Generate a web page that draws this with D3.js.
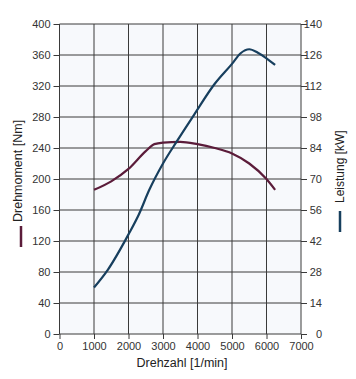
<!DOCTYPE html>
<html><head><meta charset="utf-8">
<script src="https://cdn.jsdelivr.net/npm/d3@7"></script>
<style>
html,body{margin:0;padding:0;background:#fff;}
svg{display:block;font-family:"Liberation Sans",Arial,sans-serif;}
</style></head>
<body><svg id="c" width="356" height="379"></svg>
<script>
const rpmTicks = [0,1000,2000,3000,4000,5000,6000,7000];
const torqueTicks = [0,40,80,120,160,200,240,280,320,360,400];
const powerTicks = [0,14,28,42,56,70,84,98,112,126,140];

const torqueRpm = [1000,1500,2000,2500,2750,3000,3500,4000,4500,5000,5500,6000,6250];
const torqueNm  = [186,197,213,236,245,247,248,245,240,233,220,200,186];

const powerRpm = [1000,1400,2000,2300,2600,3000,3400,3900,4500,5000,5250,5500,5750,6000,6250];
const powerKw  = [21,29,45,54,65,77,87,99,113,122,126.8,128.6,127,124.5,121.5];

const svg = d3.select("#c");
const L = 59.5, R = 301, T = 24, B = 334;

svg.append("rect").attr("x",L).attr("y",T).attr("width",R-L).attr("height",B-T).attr("fill","#f7f9fc");

const x = d3.scaleLinear().domain([0,7000]).range([L,R]);
const yT = d3.scaleLinear().domain([0,400]).range([B,T]);
const yP = d3.scaleLinear().domain([0,140]).range([B,T]);

const gridColor = "#3a3a3a";
svg.append("g").selectAll("line").data(rpmTicks).join("line")
  .attr("x1",d=>x(d)).attr("x2",d=>x(d)).attr("y1",T).attr("y2",B)
  .attr("stroke",gridColor).attr("stroke-width",1);
svg.append("g").selectAll("line").data(torqueTicks).join("line")
  .attr("x1",L).attr("x2",R).attr("y1",d=>yT(d)).attr("y2",d=>yT(d))
  .attr("stroke",gridColor).attr("stroke-width",1);

const xAxis = d3.axisBottom(x).tickValues(rpmTicks).tickSize(5).tickPadding(3).tickFormat(d3.format("d"));
const gx = svg.append("g").attr("transform",`translate(0,${B})`).call(xAxis);
const yAxisL = d3.axisLeft(yT).tickValues(torqueTicks).tickSize(6).tickPadding(3);
const gl = svg.append("g").attr("transform",`translate(${L},0)`).call(yAxisL);
const yAxisR = d3.axisRight(yP).tickValues(powerTicks).tickSize(6).tickPadding(1);
const gr = svg.append("g").attr("transform",`translate(${R},0)`).call(yAxisR);
[gx,gl,gr].forEach(g=>{
  g.select(".domain").remove();
  g.selectAll("line").attr("stroke",gridColor);
  g.selectAll("text").attr("fill","#333").style("font-size","11px").style("font-family","Liberation Sans, Arial, sans-serif");
});
gr.selectAll("text").attr("text-anchor","end").attr("x",21);

const lineT = d3.line().x((d,i)=>x(torqueRpm[i])).y(d=>yT(d)).curve(d3.curveMonotoneX);
const lineP = d3.line().x((d,i)=>x(powerRpm[i])).y(d=>yP(d)).curve(d3.curveMonotoneX);
const torqueColor = "#5b1c3a", powerColor = "#173f5e";
svg.append("path").attr("d",lineT(torqueNm)).attr("fill","none").attr("stroke",torqueColor).attr("stroke-width",2.2);
svg.append("path").attr("d",lineP(powerKw)).attr("fill","none").attr("stroke",powerColor).attr("stroke-width",2.2);

svg.append("text").attr("x",182).attr("y",367).attr("text-anchor","middle")
  .style("font-size","12.5px").attr("fill","#222").text("Drehzahl [1/min]");

svg.append("text").attr("transform","translate(22,222) rotate(-90)").attr("text-anchor","start")
  .style("font-size","12.5px").attr("fill","#222").text("Drehmoment [Nm]");
svg.append("line").attr("x1",21).attr("x2",21).attr("y1",226).attr("y2",247).attr("stroke",torqueColor).attr("stroke-width",2.5);

svg.append("text").attr("transform","translate(344,203) rotate(-90)").attr("text-anchor","start")
  .style("font-size","12px").attr("fill","#222").text("Leistung [kW]");
svg.append("line").attr("x1",340).attr("x2",340).attr("y1",211).attr("y2",232).attr("stroke",powerColor).attr("stroke-width",2.5);
</script></body></html>
